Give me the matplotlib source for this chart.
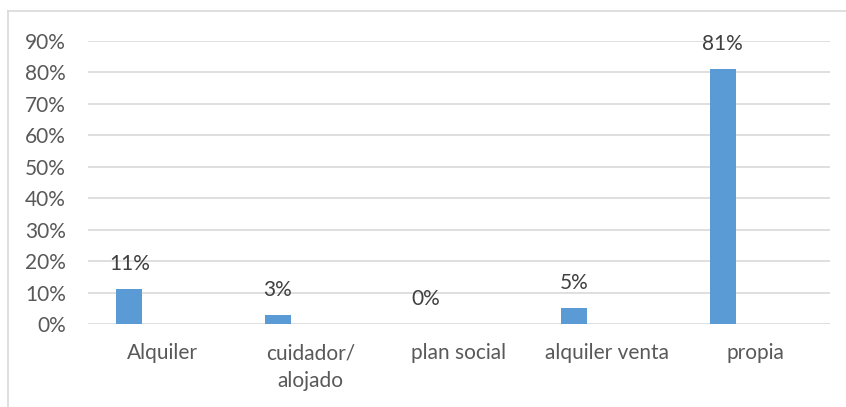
import matplotlib.pyplot as plt
from matplotlib.lines import Line2D
from matplotlib.ticker import PercentFormatter

categorias = ["Alquiler", "cuidador/\nalojado", "plan social", "alquiler venta", "propia"]
valores = [0.11, 0.03, 0.0, 0.05, 0.81]
etiquetas = ["11%", "3%", "0%", "5%", "81%"]

plt.rcParams['font.family'] = ['Lato', 'DejaVu Sans']
gris = '#595959'

fig = plt.figure(figsize=(8.46, 4.07), dpi=100)
ax = fig.add_axes([88/846, (407-324)/407, (830-88)/846, (324-41)/407])

x = list(range(len(categorias)))
pos = [i - 0.222 for i in x]
ax.bar(pos, valores, width=0.175, color='#5B9BD5', zorder=3)

for p, v, t in zip(pos, valores, etiquetas):
    ax.annotate(t, (p, v), xytext=(0, 18), textcoords='offset points',
                ha='center', va='center', fontsize=15, color='#404040')

ax.set_xlim(-0.5, 4.5)
ax.set_ylim(0, 0.9)
ax.set_yticks([i/10 for i in range(10)])
ax.yaxis.set_major_formatter(PercentFormatter(1.0, decimals=0))
ax.set_xticks(x)
ax.set_xticklabels(categorias, linespacing=1.5)
ax.tick_params(axis='x', length=0, pad=14, labelsize=15, labelcolor=gris)
ax.tick_params(axis='y', length=0, pad=16, labelsize=15, labelcolor=gris)
ax.grid(axis='y', color='#D9D9D9', linewidth=1.2, zorder=0)
for s in ax.spines.values():
    s.set_visible(False)

# marco del grafico
fig.add_artist(Line2D([7.5/846, 7.5/846], [0, 1 - 11/407], color='#D9D9D9', linewidth=1.2))
fig.add_artist(Line2D([7.5/846, 1], [1 - 11/407, 1 - 11/407], color='#D9D9D9', linewidth=1.2))

fig.savefig('out.png', dpi=100)
